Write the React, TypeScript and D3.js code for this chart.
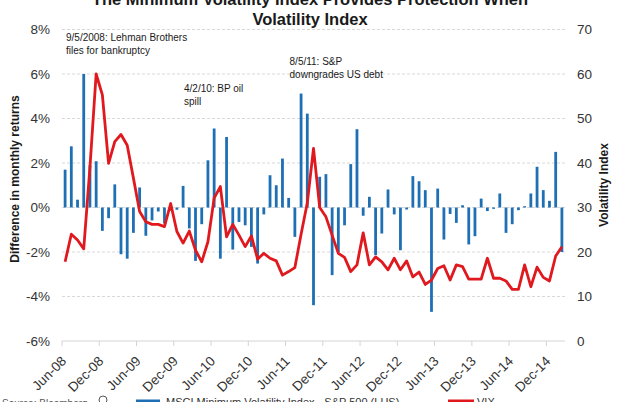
import React from "react";
import * as d3 from "d3";

const titleLines = [
  "The Minimum Volatility Index Provides Protection When",
  "Volatility Index",
];

// monthly categories Jun-08 .. Feb-15
const categories: string[] = d3
  .timeMonths(new Date(2008, 5, 1), new Date(2015, 2, 1))
  .map((d) => d3.timeFormat("%b-%y")(d));

const tickLabels = [
  "Jun-08", "Dec-08", "Jun-09", "Dec-09", "Jun-10", "Dec-10", "Jun-11",
  "Dec-11", "Jun-12", "Dec-12", "Jun-13", "Dec-13", "Jun-14", "Dec-14",
];

// MSCI Minimum Volatility Index - S&P 500 (LHS), % difference in monthly returns
const diffValues = [
  1.70, 2.75, 0.35, 6.00, 1.90, 2.08, -1.05, -0.48, 1.04, -2.10,
  -2.30, -1.14, 0.90, -1.27, -0.58, -0.18, -0.72, -0.15, -0.10, 0.97,
  -0.94, -2.40, -0.75, 2.12, 3.55, -2.30, 3.17, -1.89, -0.65, -0.80,
  -1.77, -2.52, -0.31, 1.45, 1.00, 2.20, 0.43, -1.32, 5.12, 4.22,
  -4.39, 1.38, 1.50, -3.04, -2.00, -0.80, 1.95, 3.52, -0.37, 0.48,
  -2.14, -1.17, 0.81, -0.31, -1.92, -0.09, 1.41, 1.18, 0.78, -4.69,
  0.85, -1.44, -0.29, -0.69, 0.10, -1.66, -1.29, 0.40, -0.16, -0.06,
  0.63, -1.14, -0.75, -0.12, 0.06, 0.63, 1.83, 0.78, 0.30, 2.50,
  -2.00,
];

// VIX (RHS)
const vixValues = [
  17.8, 24.0, 22.7, 20.7, 39.0, 60.0, 55.3, 39.9, 44.8, 46.4,
  44.0, 36.6, 29.1, 26.8, 26.2, 26.2, 25.7, 30.9, 24.6, 22.0,
  24.7, 20.4, 17.8, 22.3, 32.1, 34.7, 23.4, 26.2, 23.8, 21.2,
  23.6, 18.4, 19.7, 18.6, 18.0, 14.8, 15.6, 16.5, 24.0, 31.0,
  43.3, 30.0, 27.9, 23.8, 19.7, 18.8, 15.6, 17.1, 24.3, 17.1,
  18.9, 17.8, 16.0, 18.6, 16.0, 18.0, 14.4, 15.5, 12.7, 13.7,
  16.3, 16.9, 13.7, 17.1, 16.7, 13.9, 13.9, 13.9, 18.6, 14.1,
  14.1, 13.5, 11.6, 11.6, 17.1, 12.2, 16.6, 14.3, 13.5, 19.1,
  21.2,
];

const leftTicks = [-6, -4, -2, 0, 2, 4, 6, 8];
const rightTicks = [0, 10, 20, 30, 40, 50, 60, 70];

const annotations = [
  { idx: 0, value: 7.5, lines: ["9/5/2008: Lehman Brothers", "files for bankruptcy"] },
  { idx: 19, value: 5.2, lines: ["4/2/10: BP oil", "spill"] },
  { idx: 36, value: 6.4, lines: ["8/5/11: S&P", "downgrades US debt"] },
];

const legendItems = [
  { label: "MSCI Minimum Volatility Index - S&P 500 (LHS)", color: "#1f6fb4" },
  { label: "VIX", color: "#e0191f" },
];

const W = 620;
const H = 402;
const L = 62;
const R = 565;
const T = 29.5;
const B = 341;

export default function App() {
  const x = d3.scaleBand<string>().domain(categories).range([L, R]).padding(0);
  const yL = d3.scaleLinear().domain([-6, 8]).range([B, T]);
  const yR = d3.scaleLinear().domain([0, 70]).range([B, T]);
  const bw = x.bandwidth() * 0.45;
  const cx = (i: number) => (x(categories[i]) as number) + x.bandwidth() / 2;

  const line = d3
    .line<number>()
    .x((_, i) => cx(i))
    .y((d) => yR(d));

  const font = "'Liberation Sans', Arial, sans-serif";

  return (
    <svg
      width={W}
      height={H}
      style={{ position: "absolute", left: 0, top: 0, background: "#fff" }}
      fontFamily={font}
    >
      <rect x={0} y={0} width={W} height={H} fill="#fff" />
      {titleLines.map((t, i) => (
        <text
          key={t}
          x={310}
          y={4.5 + i * 20}
          textAnchor="middle"
          fontSize={16.5}
          fontWeight="bold"
          fill="#1a1a1a"
        >
          {t}
        </text>
      ))}

      {/* gridlines */}
      {leftTicks.map((t) =>
        t === -6 ? null : (
          <line
            key={t}
            x1={L}
            x2={R}
            y1={yL(t)}
            y2={yL(t)}
            stroke="#d9d9d9"
            strokeWidth={1}
            strokeDasharray="3,2"
          />
        )
      )}
      {/* x axis */}
      <line x1={L} x2={R} y1={B} y2={B} stroke="#d4d4d4" strokeWidth={1} />
      {tickLabels.map((lab, k) => {
        const xt = x(categories[k * 6]) as number;
        return (
          <g key={lab}>
            <line x1={xt} x2={xt} y1={B} y2={B + 5} stroke="#d4d4d4" />
            <text
              transform={`translate(${xt + 5},${B + 21}) rotate(-45)`}
              textAnchor="end"
              fontSize={13.5}
              fill="#333"
            >
              {lab}
            </text>
          </g>
        );
      })}

      {/* left axis labels */}
      {leftTicks.map((t) => (
        <text
          key={t}
          x={50}
          y={yL(t)}
          dy="0.35em"
          textAnchor="end"
          fontSize={13.5}
          fill="#333"
        >
          {t}%
        </text>
      ))}
      {rightTicks.map((t) => (
        <text
          key={t}
          x={577}
          y={yR(t)}
          dy="0.35em"
          textAnchor="start"
          fontSize={13.5}
          fill="#333"
        >
          {t}
        </text>
      ))}
      <text
        transform={`translate(19,179) rotate(-90)`}
        textAnchor="middle"
        fontSize={12}
        fontWeight="bold"
        fill="#1a1a1a"
      >
        Difference in monthly returns
      </text>
      <text
        transform={`translate(608,185) rotate(-90)`}
        textAnchor="middle"
        fontSize={12}
        fontWeight="bold"
        fill="#1a1a1a"
      >
        Volatility Index
      </text>

      {/* bars */}
      {diffValues.map((v, i) => (
        <rect
          key={i}
          x={cx(i) - bw / 2}
          y={Math.min(yL(v), yL(0))}
          width={bw}
          height={Math.abs(yL(v) - yL(0))}
          fill="#1f6fb4"
        />
      ))}

      {/* VIX line */}
      <path
        d={line(vixValues) as string}
        fill="none"
        stroke="#e0191f"
        strokeWidth={2.8}
        strokeLinejoin="round"
      />

      {/* annotations */}
      {annotations.map((a) => (
        <text
          key={a.lines[0]}
          x={(x(categories[a.idx]) as number) + 4}
          y={yL(a.value)}
          fontSize={10}
          fill="#1a1a1a"
        >
          {a.lines.map((l, j) => (
            <tspan key={j} x={(x(categories[a.idx]) as number) + 4} dy={j === 0 ? 0 : 13}>
              {l}
            </tspan>
          ))}
        </text>
      ))}

      {/* legend (cut off at bottom) */}
      <text x={2} y={407} fontSize={10} fill="#555">
        Source: Bloomberg
      </text>
      <circle cx={103} cy={400} r={4} fill="none" stroke="#555" strokeWidth={1} />
      <line x1={136} x2={160} y1={401} y2={401} stroke={legendItems[0].color} strokeWidth={3} />
      <text x={166} y={406} fontSize={11} fill="#333">
        {legendItems[0].label}
      </text>
      <line x1={448} x2={474} y1={401} y2={401} stroke={legendItems[1].color} strokeWidth={3} />
      <text x={477} y={406} fontSize={11} fill="#333">
        {legendItems[1].label}
      </text>
    </svg>
  );
}
